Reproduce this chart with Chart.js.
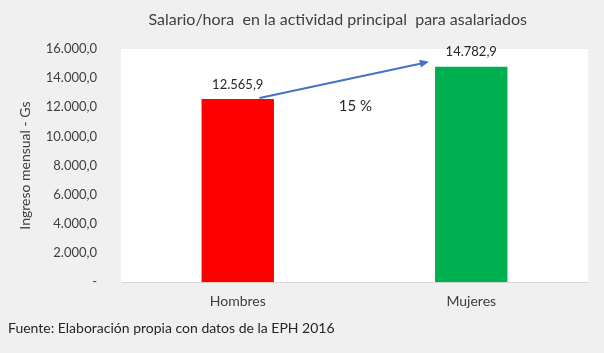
<!DOCTYPE html>
<html><head><meta charset="utf-8">
<script src="https://cdn.jsdelivr.net/npm/chart.js@4/dist/chart.umd.min.js"></script>
<style>html,body{margin:0;padding:0;background:#f0f0f0;}#wrap{width:604px;height:353px;}</style>
</head><body><div id="wrap"><canvas id="c" width="604" height="353"></canvas></div>
<script>
const categories = ["Hombres", "Mujeres"];
const salario = [12565.9, 14782.9];
const barColors = ["#ff0000", "#00b050"];
const yTicks = [0, 2000, 4000, 6000, 8000, 10000, 12000, 14000, 16000];
const chartTitle = "Salario/hora  en la actividad principal  para asalariados";
const yTitle = "Ingreso mensual - Gs";
const footnote = "Fuente: Elaboración propia con datos de la EPH 2016";
const growthLabel = "15 %";

const FONT = "Lato, 'Open Sans', sans-serif";
function fmt(v){
  if (v === 0) return "-";
  const s = v.toFixed(1).split(".");
  return s[0].replace(/\B(?=(\d{3})+(?!\d))/g, ".") + "," + s[1];
}

const bgPlugin = {
  id: "bg",
  beforeDraw(chart){
    const {ctx, chartArea:a} = chart;
    ctx.save();
    ctx.fillStyle = "#f0f0f0";
    ctx.fillRect(0,0,chart.width,chart.height);
    ctx.fillStyle = "#ffffff";
    ctx.fillRect(a.left, a.top, a.right-a.left, a.bottom-a.top);
    ctx.restore();
  }
};
const annoPlugin = {
  id: "anno",
  afterDatasetsDraw(chart){
    const {ctx, chartArea:a} = chart;
    const meta = chart.getDatasetMeta(0);
    ctx.save();
    // title
    ctx.fillStyle = "#404040";
    ctx.font = "16px " + FONT;
    ctx.textAlign = "center";
    ctx.textBaseline = "middle";
    ctx.fillText(chartTitle, a.left + (a.right - a.left) * 0.464, 20);
    // data labels
    ctx.fillStyle = "#262626";
    ctx.font = "13px " + FONT;
    ctx.textBaseline = "bottom";
    meta.data.forEach((bar, i) => {
      ctx.fillText(fmt(salario[i]), bar.x, bar.y - 8);
    });
    const b0 = meta.data[0], b1 = meta.data[1];
    const x0 = b0.x + b0.width*0.3, y0 = b0.y - 1;
    const x1 = b1.x - b1.width/2 - 6, y1 = b1.y - 5;
    ctx.strokeStyle = "#4472c4";
    ctx.fillStyle = "#4472c4";
    ctx.lineWidth = 2;
    const ang = Math.atan2(y1-y0, x1-x0);
    const hl = 10;
    ctx.beginPath();
    ctx.moveTo(x0,y0);
    ctx.lineTo(x1 - Math.cos(ang)*hl*0.8, y1 - Math.sin(ang)*hl*0.8);
    ctx.stroke();
    ctx.beginPath();
    ctx.moveTo(x1,y1);
    ctx.lineTo(x1 - hl*Math.cos(ang-0.4), y1 - hl*Math.sin(ang-0.4));
    ctx.lineTo(x1 - hl*Math.cos(ang+0.4), y1 - hl*Math.sin(ang+0.4));
    ctx.closePath();
    ctx.fill();
    ctx.fillStyle = "#262626";
    ctx.font = "15px " + FONT;
    ctx.textBaseline = "middle";
    ctx.fillText(growthLabel, (b0.x+b1.x)/2 + 1, 106);
    ctx.restore();
  }
};

new Chart(document.getElementById("c"), {
  type: "bar",
  data: {
    labels: categories,
    datasets: [{ data: salario, backgroundColor: barColors, borderWidth: 0,
      barPercentage: 0.31, categoryPercentage: 1 }]
  },
  options: {
    responsive: false,
    animation: false,
    layout: { padding: { left: 8, right: 16, top: 49, bottom: 0 } },
    plugins: {
      legend: { display: false },
      tooltip: { enabled: false },
      title: { display: false },
      subtitle: { display: true, text: footnote, position: "bottom", align: "start", color: "#262626",
        font: { family: FONT, size: 14, weight: "normal" }, padding: { top: 8, bottom: 16 } }
    },
    scales: {
      x: {
        grid: { display: false },
        border: { display: true, color: "#d9d9d9", width: 1 },
        ticks: { color: "#404040", font: { family: FONT, size: 14 }, padding: 3 },
        afterFit(s){ s.height = 30; }
      },
      y: {
        min: 0, max: 16000,
        afterBuildTicks(s){ s.ticks = yTicks.map(v => ({value: v})); },
        grid: { display: false },
        border: { display: false },
        ticks: { color: "#404040", font: { family: FONT, size: 13 }, padding: 16,
          callback: v => fmt(v) },
        title: { display: true, text: yTitle, color: "#404040",
          font: { family: FONT, size: 14 }, padding: { top: 9, bottom: 0 } },
        afterFit(s){ s.width = 113; }
      }
    }
  },
  plugins: [bgPlugin, annoPlugin]
});
</script></body></html>
